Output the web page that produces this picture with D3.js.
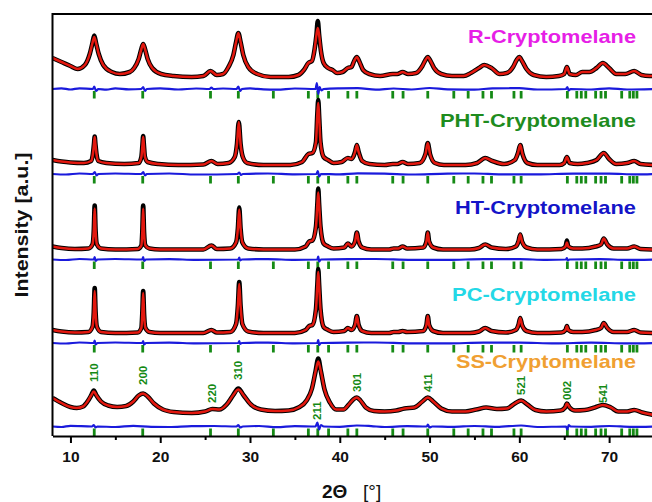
<html>
  <head>
    <meta charset="UTF-8">
    <script src="https://unpkg.com/d3@7/dist/d3.min.js"></script>
    <title>Cryptomelane XRD</title>
    <style>
      body { margin: 0; background: #fff; }
      text { font-family: Arial, "Liberation Sans", sans-serif; }
    </style>
  </head>
  <body>
	<script type="text/javascript">

      //size of the svg
      var width = 652;
      var height = 502;

      // ---------------- data ----------------
      // Bragg positions (2theta) shown as green ticks under every pattern
      const bragg = [12.65, 18.05, 25.6, 28.7, 32.6, 36.5, 37.55, 38.75, 40.9, 41.9, 45.9, 47.05,
                     49.8, 52.7, 54.3, 55.95, 56.9, 59.4, 60.2, 65.35, 66.4, 66.9, 67.4, 68.5,
                     69.1, 69.6, 71.4, 72.3, 72.7, 73.1];

      const sampleNames = ["R-Cryptomelane", "PHT-Cryptomelane", "HT-Cryptomelane", "PC-Cryptomelane", "SS-Cryptomelane"];
      const sampleColors = ["#e61ee6", "#1e8c1e", "#1414c8", "#23d8e6", "#f0a032"];
      // vertical offset of each pattern (level of its difference curve)
      const offsets = [347, 262, 176.5, 93, 9.5];

      // calculated profiles [2theta, intensity above offset]
      const profileR = [[8,31],[9,27],[10,23],[10.8,20],[11.6,24],[12.15,35],[12.45,46],[12.65,52],[12.85,46],[13.15,35],[13.65,24],[14.6,17],[15.5,15],
        [16.6,17],[17.1,21],[17.6,30],[17.9,40],[18.1,45],[18.3,40],[18.6,30],[19.1,21],[20.1,15],[21.5,13],
        [23.5,12],[24.8,13],[25.6,18],[26.3,14],[27.0,15],
        [27.6,22],[28.15,34],[28.45,47],[28.7,56],[28.95,47],[29.25,34],[29.8,22],[30.8,15],[32.3,12],[34.3,12],
        [35.4,14],[36.0,19],[36.5,26],[36.9,28],[37.2,40],[37.4,54],[37.55,61],[37.7,54],[37.9,38],[38.2,26],[38.7,21],[39.2,19],[39.7,16],
        [40.3,17],[40.9,21],[41.3,22],[41.6,28],[41.9,32],[42.2,27],[42.6,19],[43.3,15],[44.5,13],[45.9,15],[46.4,15],[47.0,17],[47.6,15],
        [48.5,16],[49.2,23],[49.55,29],[49.8,32],[50.1,28],[50.5,21],[51.3,15],[52.5,13],[53.8,13],[54.6,16],[55.5,21],[56.1,24],[56.9,21],
        [57.8,15],[58.6,16],[59.3,22],[59.7,29],[60.0,32],[60.3,28],[60.8,20],[61.6,14],[63,12],[64.4,13],[65.0,15],[65.3,22],[65.6,15],
        [66.3,14],[67.0,17],[67.8,17],[68.6,21],[69.3,26],[70.0,21],[70.8,15],[71.8,15],[72.8,18],[73.6,14],[74.5,13],[75,13]];

      const profilePHT = [[8,14],[9,12.5],[10,11.5],[11.5,11],[12.3,13],[12.5,20],[12.62,30],[12.7,37],[12.78,30],[12.9,20],[13.1,13],[14,11],[16,10],
        [17.6,11],[17.9,17],[18.02,29],[18.1,37],[18.18,29],[18.3,17],[18.6,12],[19.8,10],[22,9],[24.8,9.5],[25.7,13],[26.4,10],[27.6,11],
        [28.3,17],[28.55,30],[28.75,52],[28.95,30],[29.2,17],[29.7,11],[31.5,9],[34.5,9],[35.8,12],[36.5,20],[36.95,21],[37.35,32],[37.5,60],
        [37.6,71],[37.7,58],[37.85,32],[38.2,17],[38.7,14],[39.3,11],[40.2,12],[40.9,16],[41.3,15],[41.7,22],[41.9,29],[42.1,22],[42.5,13],
        [43.3,10],[45.0,9],[45.9,10],[46.4,10],[47.0,12],[47.6,10],[48.9,11],[49.55,20],[49.8,31],[50.05,20],[50.6,11],[51.6,9],[54,9],
        [55.3,11],[56.2,16],[57.0,13],[58.3,10],[59.5,14],[59.85,21],[60.1,29],[60.35,20],[60.9,11],[62,9],[64.5,9],[65.0,11],[65.3,17],
        [65.6,11],[66.5,10],[67.5,11],[68.6,14],[69.4,21],[70.0,15],[70.8,10],[72.0,11],[72.8,13],[73.5,10],[75,9]];

      const profileHT = [[8,13],[9,11.5],[10.5,10.5],[12.0,11],[12.45,15],[12.6,29],[12.7,51],[12.8,29],[12.95,15],[13.4,11],[15,10],
        [17.5,10.5],[17.9,14],[18.0,27],[18.1,51],[18.2,27],[18.35,14],[18.8,11],[20,10],[24.8,10],[25.7,14],[26.3,10.5],[27.8,11],
        [28.45,17],[28.65,31],[28.8,50],[28.95,31],[29.15,17],[29.8,11],[31.5,10],[35,10],[36.2,13],[36.6,18],[36.95,19],[37.35,33],
        [37.5,55],[37.6,67],[37.7,55],[37.85,33],[38.2,16],[38.7,13],[39.3,11],[40.5,12],[40.9,16],[41.3,13],[41.7,18],[41.9,27],
        [42.1,18],[42.5,12],[43.5,10],[45.5,10],[46.0,11],[46.5,11],[47.0,13],[47.5,11],[49.3,12],[49.65,18],[49.8,27],[49.95,18],
        [50.4,12],[51.5,10],[54.5,10],[55.5,11.5],[56.2,15],[56.9,12],[58.5,10.5],[59.6,13],[59.9,18],[60.1,25],[60.3,18],[60.8,12],
        [62,10],[64.7,10.5],[65.15,13],[65.3,17],[65.45,13],[66,11],[67,11],[68.5,13],[69.1,15],[69.4,21],[69.8,15],[70.5,11],
        [72,11],[72.8,13],[73.5,10.5],[75,10]];

      const profilePC = [[8,13],[9,11.5],[10.5,10.5],[12.0,11],[12.45,16],[12.6,31],[12.7,52],[12.8,31],[12.95,16],[13.4,11],[15,10],
        [17.5,10.5],[17.9,15],[18.0,29],[18.1,50],[18.2,29],[18.35,15],[18.8,11],[20,10],[24.8,10],[25.7,13],[26.3,10.5],[27.8,11],
        [28.45,19],[28.65,37],[28.8,59],[28.95,37],[29.15,19],[29.8,11.5],[31.5,10],[35,10],[36.2,13],[36.6,17],[36.95,18],[37.35,34],
        [37.5,58],[37.6,71],[37.7,58],[37.85,34],[38.2,16],[38.7,13],[39.3,11],[40.5,12],[40.9,15],[41.3,13],[41.7,18],[41.9,27],
        [42.1,18],[42.5,12],[43.5,10],[45.5,10],[46.0,11],[46.5,11],[47.0,12],[47.5,11],[49.3,12],[49.65,18],[49.8,27],[49.95,18],
        [50.4,12],[51.5,10],[54.5,10],[55.5,11.5],[56.2,15],[56.9,12],[58.5,10.5],[59.6,13],[59.9,18],[60.1,25],[60.3,18],[60.8,12],
        [62,10],[64.7,10.5],[65.15,13],[65.3,17],[65.45,13],[66,11],[67,11],[68.5,13],[69.1,15],[69.4,20],[69.8,15],[70.5,11],
        [72,11],[72.8,13],[73.5,10.5],[75,10]];

      const profileSS = [[8,28.5],[9,23.5],[10,19.5],[10.7,18.5],[11.4,20],[11.9,25],[12.3,31],[12.6,35],[12.9,31],[13.4,25],[14.2,21],
        [15.2,19.5],[16.2,20.5],[17.0,25],[17.6,31],[18.1,33],[18.6,30],[19.3,23],[20.3,17],[21.5,14.5],[23.5,13.5],[25.0,15],[25.8,17.5],
        [26.6,17],[27.4,22],[28.1,31],[28.7,37],[29.3,31],[30.1,22],[31.2,17],[32.8,15.5],[34.3,16],[35.4,19],[36.3,26],[36.9,38],
        [37.3,55],[37.6,65],[37.9,55],[38.3,37],[38.9,24],[39.6,17],[40.4,17],[41.0,22],[41.5,27],[41.9,29],[42.3,26],[42.9,19],
        [43.8,15.5],[45.0,15],[46.3,16],[47.2,18],[48.3,19],[49.2,25],[49.8,29],[50.4,25],[51.3,18],[52.5,15],[54,15],[55.2,17],
        [56.3,19],[57.5,17.5],[58.6,18],[59.5,23],[60.2,26],[60.9,22],[61.8,16.5],[63,15],[64.6,16],[65.1,19],[65.3,23],[65.6,19],
        [66.2,16],[67.3,16.5],[68.4,19],[69.3,21.5],[70.2,19],[71.0,15],[72.0,15],[72.8,16.5],[73.7,14],[75,11.5]];

      // observed peak tops where the black data stands above the red fit
      const obsTopsR = [[37.55,68],[12.65,53.5]];
      const obsTopsPHT = [[37.6,74],[12.7,37.5],[18.1,38]];
      const obsTopsHT = [[12.7,54],[18.1,54],[28.8,52],[37.6,71],[65.3,19]];
      const obsTopsPC = [[12.7,55],[18.1,52],[28.8,61],[37.6,74]];
      const obsTopsSS = [[37.6,68],[12.6,36],[28.7,38]];

      // difference curves (obs - calc)
      const diffR = [[8,0],[9,0.7],[10,-0.5],[11,0.6],[12.5,0],[12.65,2.5],[12.85,-2],[13.1,0],[14,-0.6],[15,0.6],[16.5,-0.4],[17.9,0],[18.1,2],[18.3,-2],[18.5,0],
        [20,0.6],[22,-0.5],[24,0.5],[25.5,0],[25.7,1.5],[25.9,0],[27,0.5],[28.5,0],[28.7,2.5],[28.9,-2],[29.1,0],[30,0.6],[31.5,-0.4],[33,-0.6],[35,0.5],[37.3,0],[37.45,6],[37.6,-5],
        [37.75,2],[37.95,-1.5],[38.2,0],[40,0.6],[42,0.8],[44,-0.6],[46,0.5],[48,-0.5],[50,1],[52,-0.4],[55,-0.6],[57,0.6],[60,0.8],[62,-0.5],[65.2,0],[65.35,2],[65.5,-1.5],[65.7,0],[68,-0.5],[70,0.6],[72,-0.5],[75,0]];
      const diffPHT = [[8,0],[9.5,-0.5],[11,0.5],[12.5,0],[12.7,2],[12.9,-1.5],[13.1,0],[15,0.5],[17.9,0],[18.1,2],[18.3,-1.5],[18.5,0],[21,0.5],[24,-0.5],
        [28.6,0],[28.8,1.5],[29,-1],[29.2,0],[32,0.5],[35,-0.4],[37.4,0],[37.55,3],[37.7,-2.5],[37.9,0],[40,-0.4],[42,0.6],[45,0.4],[48,-0.5],[52,0.4],[55,0.5],[58,-0.4],[62,-0.4],[66,0.4],[70,0.4],[73,-0.4],[75,0]];
      const diffHT = [[8,0],[9.5,-0.5],[11,0.5],[12.6,0],[12.7,2.5],[12.8,-1.5],[13,0],[15,0.5],[18,0],[18.1,2.5],[18.2,-1.5],[18.4,0],[21,0.4],[24,-0.4],
        [28.7,0],[28.8,2],[28.9,-1],[29.1,0],[32,0.4],[35,-0.4],[37.5,0],[37.6,3],[37.7,-2],[37.9,0],[41,0.4],[44,0.5],[48,-0.4],[52,-0.4],[56,0.4],[60,0.4],[63,-0.4],[65.2,0],[65.3,1.5],[65.4,-1],[65.6,0],[69,0.4],[72,-0.4],[75,0]];
      const diffPC = [[8,0],[9.5,-0.5],[11,0.5],[12.6,0],[12.7,2.5],[12.8,-1.5],[13,0],[15,0.5],[18,0],[18.1,2],[18.2,-1.5],[18.4,0],[21,0.4],[24,-0.4],
        [28.7,0],[28.8,2],[28.9,-1],[29.1,0],[32,0.4],[35,-0.4],[37.5,0],[37.6,3],[37.7,-2],[37.9,0],[41,0.4],[44,0.5],[48,-0.4],[52,-0.4],[56,0.4],[60,0.4],[64,-0.4],[68,0.4],[72,-0.4],[75,0]];
      const diffSS = [[8,0],[9,-0.5],[10,0.6],[12.4,0],[12.6,1.5],[12.8,-1],[13,0],[15,-0.5],[17,0.6],[19,-0.4],[21,-0.5],[23.5,0.4],[26,0.5],[28.5,0],[28.7,1.5],[28.9,-1],
        [29.2,0],[31,0.5],[33,-0.6],[35,0.4],[37.3,0],[37.5,4],[37.7,-3],[37.9,1.5],[38.2,0],[40,-0.4],[41.9,1],[43.5,0.4],[45,-0.5],[47.5,0.4],[49.7,0],[49.8,2],[50,-1],[50.3,0],
        [52.5,-0.4],[55,0.5],[57.5,-0.4],[60.2,1],[62,-0.5],[65.2,0],[65.35,-3],[65.5,1.5],[65.7,0],[68,-0.4],[70,0.5],[72.5,-0.4],[75,0]];

      const profiles = [profileR, profilePHT, profileHT, profilePC, profileSS];
      const obsTops = [obsTopsR, obsTopsPHT, obsTopsHT, obsTopsPC, obsTopsSS];
      const diffs = [diffR, diffPHT, diffHT, diffPC, diffSS];

      // Miller indices labelled over the SS pattern: label, 2theta, intensity of the label foot
      const hklLabels = ["110", "200", "220", "310", "211", "301", "411", "521", "002", "541"];
      const hklPos = [12.65, 18.1, 25.7, 28.7, 37.5, 41.9, 49.8, 60.2, 65.3, 69.3];
      const hklLevel = [44.5, 41.5, 23.5, 46.5, 6.5, 34.5, 34.5, 31.5, 26.5, 23.5];

      const xTicks = [10, 20, 30, 40, 50, 60, 70];
      const xMinorTicks = [15, 25, 35, 45, 55, 65, 75];

      // ---------------- drawing ----------------
      var plotLeft = 52.5, plotTop = 14, plotBottom = 436;

      var svg = d3.select('body')
                  .append('svg')
                  .attr('width', width)
                  .attr('height', height);

      var x = d3.scaleLinear().domain([8, 75]).range([plotLeft, 654]);
      var y = d3.scaleLinear().domain([0, 422]).range([plotBottom, plotTop]);

      svg.append('clipPath').attr('id', 'plotClip')
         .append('rect')
         .attr('x', plotLeft).attr('y', plotTop)
         .attr('width', width - plotLeft).attr('height', plotBottom - plotTop);

      var plot = svg.append('g').attr('clip-path', 'url(#plotClip)');

      profiles.forEach(function(profile, i) {
        var off = offsets[i];
        var line = d3.line()
            .x(function(d){ return x(d[0]); })
            .y(function(d){ return y(off + d[1]); })
            .curve(d3.curveMonotoneX);

        // observed = profile with the higher peak tops
        var obs = profile.map(function(p) {
          var t = obsTops[i].find(function(o){ return Math.abs(o[0] - p[0]) < 1e-6; });
          return t ? [p[0], t[1]] : p;
        });

        var g = plot.append('g');

        // bragg ticks
        g.selectAll('line.bragg')
          .data(bragg)
          .enter()
          .append('line')
          .attr('x1', function(d){ return x(d); })
          .attr('x2', function(d){ return x(d); })
          .attr('y1', y(off) + 2)
          .attr('y2', y(off) + 9.5)
          .style('stroke', '#158a15')
          .style('stroke-width', 2.8);

        // difference
        g.append('path')
          .attr('d', line(diffs[i]))
          .style('fill', 'none')
          .style('stroke', '#1a1adc')
          .style('stroke-width', 2.2);

        // observed
        g.append('path')
          .attr('d', line(obs))
          .style('fill', 'none')
          .style('stroke', '#000')
          .style('stroke-width', 4.6)
          .style('stroke-linejoin', 'round');

        // calculated
        g.append('path')
          .attr('d', line(profile))
          .style('fill', 'none')
          .style('stroke', '#e3180f')
          .style('stroke-width', 2.5)
          .style('stroke-linejoin', 'round');
      });

      // sample names
      var nameBase = [43, 127, 214, 301, 368];
      var nameWidth = [168, 196, 181, 184, 180];
      sampleNames.forEach(function(n, i) {
        svg.append('text')
          .attr('x', 636)
          .attr('y', nameBase[i])
          .attr('text-anchor', 'end')
          .attr('textLength', nameWidth[i])
          .attr('lengthAdjust', 'spacingAndGlyphs')
          .style('font-size', '19px')
          .style('font-weight', 'bold')
          .style('fill', sampleColors[i])
          .text(n);
      });

      // hkl labels
      svg.selectAll('text.hkl')
        .data(hklLabels)
        .enter()
        .append('text')
        .attr('class', 'hkl')
        .attr('transform', function(d, i){
          return 'translate(' + x(hklPos[i]) + ',' + y(offsets[4] + hklLevel[i]) + ') rotate(-90)';
        })
        .attr('dy', '0.36em')
        .style('font-size', '11.5px')
        .style('font-weight', 'bold')
        .style('fill', '#158a15')
        .text(function(d){ return d; });

      // frame
      svg.append('line')
        .attr('x1', plotLeft).attr('x2', width).attr('y1', plotTop).attr('y2', plotTop)
        .style('stroke', '#000').style('stroke-width', 2);
      svg.append('line')
        .attr('x1', plotLeft).attr('x2', plotLeft).attr('y1', plotTop - 1).attr('y2', plotBottom)
        .style('stroke', '#000').style('stroke-width', 2);

      // x axis
      var xAxis = svg.append('g')
        .attr('transform', 'translate(0,' + plotBottom + ')')
        .call(d3.axisBottom(x).tickValues(xTicks).tickSize(7).tickPadding(8).tickSizeOuter(0));
      xAxis.select('.domain').style('stroke-width', 2);
      xAxis.selectAll('.tick line').style('stroke-width', 2);
      xAxis.selectAll('text')
        .attr('font-size', null)
        .style('font-size', '15.5px')
        .style('font-weight', 'bold')
        .style('font-family', 'Arial, "Liberation Sans", sans-serif')
        .style('fill', '#111');

      var xMinor = svg.append('g')
        .attr('transform', 'translate(0,' + plotBottom + ')')
        .call(d3.axisBottom(x).tickValues(xMinorTicks).tickSize(4).tickFormat(''));
      xMinor.select('.domain').remove();
      xMinor.selectAll('.tick line').style('stroke-width', 2);

      // axis titles
      var xt = svg.append('text')
        .attr('x', 322)
        .attr('y', 498)
        .style('font-size', '19px')
        .style('fill', '#111');
      xt.append('tspan').style('font-weight', 'bold').text('2\u0398');
      xt.append('tspan').attr('x', 363).text('[\u00b0]');

      svg.append('text')
        .attr('transform', 'translate(22,225) rotate(-90)')
        .attr('text-anchor', 'middle')
        .attr('dy', '0.35em')
        .attr('textLength', 145)
        .attr('lengthAdjust', 'spacingAndGlyphs')
        .style('font-size', '18px')
        .style('font-weight', 'bold')
        .style('fill', '#111')
        .text('Intensity [a.u.]');

	</script>
  </body>
</html>
